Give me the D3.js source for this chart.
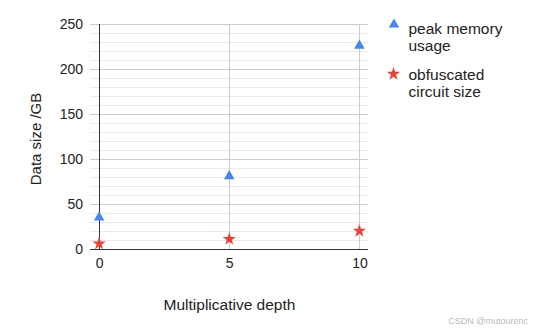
<!DOCTYPE html>
<html><head><meta charset="utf-8">
<script src="https://cdn.jsdelivr.net/npm/d3@7"></script>
<style>body{margin:0;background:#fff;}svg{display:block;font-family:Arial,"Liberation Sans",sans-serif;}</style>
</head><body>
<svg id="c" width="536" height="332"></svg>
<script>
const depths = [0, 5, 10];
const peakMemory = [35, 81, 226];
const circuitSize = [6, 11, 20];
const yTicks = [0, 50, 100, 150, 200, 250];
const xTicks = [0, 5, 10];
const seriesNames = ["peak memory usage", "obfuscated circuit size"];
const xTitle = "Multiplicative depth";
const yTitle = "Data size /GB";

const svg = d3.select("#c");
const L = 90, R = 368, T = 24, B = 249;
const x = d3.scaleLinear().domain([-0.35, 10.33]).range([L, R]);
const y = d3.scaleLinear().domain([0, 250]).range([B, T]);
const FONT = "Arial, 'Liberation Sans', sans-serif";

// minor gridlines
const minor = d3.range(0, 251, 10).filter(v => v % 50 !== 0);
svg.append("g").selectAll("line").data(minor).join("line")
  .attr("x1", L).attr("x2", R).attr("y1", d => y(d) + 0.5).attr("y2", d => y(d) + 0.5)
  .attr("stroke", "#ebebeb").attr("stroke-width", 1);
// major gridlines
svg.append("g").selectAll("line").data(yTicks.filter(v => v > 0)).join("line")
  .attr("x1", L).attr("x2", R).attr("y1", d => y(d) + 0.5).attr("y2", d => y(d) + 0.5)
  .attr("stroke", "#cccccc").attr("stroke-width", 1);
// vertical gridlines
svg.append("g").selectAll("line").data(xTicks.filter(v => v !== 0)).join("line")
  .attr("x1", d => Math.round(x(d)) + 0.5).attr("x2", d => Math.round(x(d)) + 0.5)
  .attr("y1", T).attr("y2", B)
  .attr("stroke", "#cccccc").attr("stroke-width", 1);
// x=0 baseline
svg.append("line").attr("x1", Math.round(x(0)) + 0.5).attr("x2", Math.round(x(0)) + 0.5)
  .attr("y1", T).attr("y2", B).attr("stroke", "#333").attr("stroke-width", 1);
// y=0 baseline
svg.append("line").attr("x1", L).attr("x2", R).attr("y1", y(0) + 0.5).attr("y2", y(0) + 0.5)
  .attr("stroke", "#333").attr("stroke-width", 1);

// y axis labels
const yAxis = d3.axisLeft(y).tickValues(yTicks).tickSize(0).tickPadding(7);
const gy = svg.append("g").attr("transform", `translate(${L},0)`).call(yAxis);
gy.select(".domain").remove();
gy.selectAll("text").attr("font-size", 14).attr("fill", "#222").attr("font-family", FONT);

const xAxis = d3.axisBottom(x).tickValues(xTicks).tickSize(0).tickPadding(9);
const gx = svg.append("g").attr("transform", `translate(0,${B})`).call(xAxis);
gx.select(".domain").remove();
gx.selectAll("text").attr("font-size", 14).attr("fill", "#222").attr("font-family", FONT);

// titles
svg.append("text").attr("x", 229.5).attr("y", 310).attr("text-anchor", "middle")
  .attr("font-size", 15.5).attr("fill", "#222").text(xTitle);
svg.append("text").attr("transform", `translate(41,139) rotate(-90)`)
  .attr("text-anchor", "middle").attr("font-size", 15).attr("fill", "#222").text(yTitle);

const tri = d3.symbol().type(d3.symbolTriangle).size(48);
const star = d3.symbol().type(d3.symbolStar).size(55);
const blue = "#4285F4", red = "#EA4335";

svg.append("g").selectAll("path").data(depths).join("path")
  .attr("d", tri).attr("fill", blue)
  .attr("transform", (d, i) => `translate(${x(d)},${y(peakMemory[i])})`);
svg.append("g").selectAll("path").data(depths).join("path")
  .attr("d", star).attr("fill", red)
  .attr("transform", (d, i) => `translate(${x(d)},${y(circuitSize[i])})`);

// legend
const leg = svg.append("g");
leg.append("path").attr("d", tri).attr("fill", blue).attr("transform", "translate(394,24.5)");
leg.append("path").attr("d", star).attr("fill", red).attr("transform", "translate(393.5,74)");
const legLines = [["peak memory", "usage"], ["obfuscated", "circuit size"]];
const legY = [34, 80];
legLines.forEach((lines, i) => {
  lines.forEach((t, j) => {
    leg.append("text").attr("x", 408.5).attr("y", legY[i] + j * 17)
      .attr("font-size", 15.5).attr("fill", "#222").text(t);
  });
});

// watermark
svg.append("text").attr("x", 528).attr("y", 324).attr("text-anchor", "end")
  .attr("font-size", 9).attr("fill", "#bbb").text("CSDN @mutourenc");
</script>
</body></html>
